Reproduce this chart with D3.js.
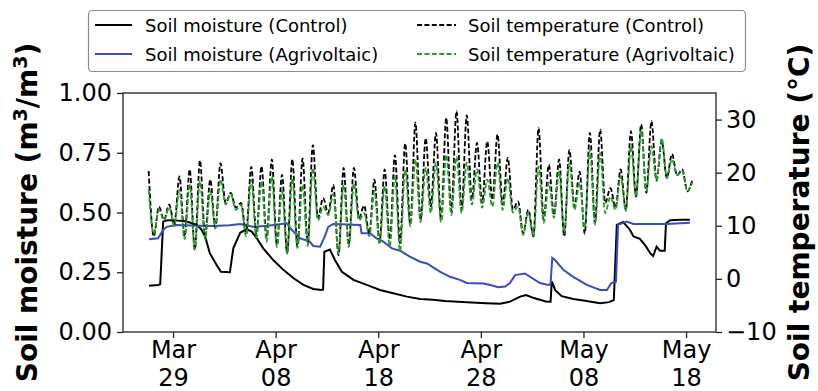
<!DOCTYPE html>
<html>
<head>
<meta charset="utf-8">
<script src="https://cdn.jsdelivr.net/npm/d3@7"></script>
<style>
  body { margin: 0; background: #fff; }
  text { font-family: "DejaVu Sans", sans-serif; }
</style>
</head>
<body>
<div id="chart"></div>
<script>
// Soil temperature, daily peak (15:00) from Mar 26 and daily minimum (03:00) from Mar 27
const tempPeakControl = [20.3, 13.6, 14.0, 19.3, 20.6, 22.3, 18.7, 21.8, 16.2, 14.3,
  21.1, 21.2, 22.5, 19.6, 22.5, 22.7, 25.2, 15.2, 17.7, 20.9,
  20.9, 13.8, 18.7, 20.6, 23.3, 25.5, 29.4, 26.5, 27.5, 30.3,
  31.6, 30.8, 25.6, 25.9, 27.2, 22.8, 14.6, 13.0, 28.4, 21.5,
  22.5, 24.3, 20.2, 27.5, 28.1, 17.1, 20.6, 27.8, 29.1, 29.7,
  26.0, 23.5, 20.6, 18.7];
const tempMinControl = [8.0, 11.1, 10.2, 8.0, 5.5, 8.0, 9.6, 14.3, 13.4,
  8.7, 8.3, 7.7, 6.4, 4.8, 6.1, 6.7, 11.5, 12.4, 4.5,
  6.4, 11.5, 8.5, 7.0, 7.4, 6.7, 10.2, 11.1, 13.6, 11.1,
  12.7, 13.0, 14.9, 14.3, 14.9, 14.0, 13.0, 8.6, 8.0, 11.1,
  12.0, 8.0, 13.6, 8.5, 10.6, 14.3, 13.4, 13.0, 15.5, 16.2,
  18.5, 19.0, 19.5, 16.5];
const tempPeakAgri = [16.8, 13.0, 13.5, 16.8, 17.7, 18.4, 16.5, 18.7, 16.0, 14.0,
  18.7, 18.4, 19.3, 16.5, 19.0, 17.7, 20.9, 13.6, 16.0, 17.7,
  18.0, 12.4, 16.5, 17.5, 19.5, 20.5, 22.5, 20.9, 21.9, 23.4,
  23.0, 21.9, 20.6, 18.7, 21.9, 19.0, 13.6, 12.5, 21.2, 18.1,
  20.2, 21.8, 18.1, 24.3, 23.7, 15.5, 19.3, 25.0, 28.0, 25.0,
  26.5, 22.5, 20.3, 18.3];
const tempMinAgri = [8.5, 11.0, 10.0, 7.5, 5.5, 7.5, 9.5, 14.0, 13.0,
  8.0, 7.8, 7.0, 6.0, 4.8, 5.8, 6.2, 11.0, 12.0, 4.8,
  6.0, 11.0, 8.0, 6.5, 6.1, 5.2, 9.9, 10.7, 12.4, 10.7,
  12.0, 12.4, 14.0, 13.4, 13.6, 13.0, 12.5, 8.3, 8.0, 10.6,
  11.5, 8.6, 13.0, 9.6, 10.2, 12.4, 13.0, 12.8, 15.5, 16.5,
  18.5, 19.0, 19.5, 16.5];

// Soil moisture (m3/m3)
const ctlTimes = ["03-26 16", "03-27 13", "03-27 18", "03-28 01", "03-28 12", "03-29 12", "03-30 06", "03-30 20",
  "03-31 08", "03-31 18", "04-01 03", "04-01 14", "04-02 06", "04-02 16", "04-03 13", "04-03 21",
  "04-04 13", "04-05 04", "04-05 16", "04-06 04", "04-06 19", "04-07 19", "04-08 18", "04-09 18",
  "04-10 17", "04-11 16", "04-12 12", "04-12 15", "04-12 18", "04-13 07", "04-13 19", "04-14 11",
  "04-15 14", "04-16 21", "04-18 04", "04-19 11", "04-20 19", "04-22 02", "04-23 08", "04-24 12",
  "04-26 15", "04-28 12", "04-29 21", "04-30 20", "05-01 20", "05-02 10", "05-03 04", "05-04 08",
  "05-04 19", "05-04 22", "05-05 06", "05-05 21", "05-07 00", "05-08 00", "05-09 15", "05-10 12",
  "05-10 23", "05-11 06", "05-11 21", "05-12 13", "05-12 21", "05-13 12", "05-14 00", "05-14 12",
  "05-14 19", "05-15 03", "05-15 11", "05-15 22", "05-16 01", "05-16 11", "05-17 12", "05-18 09"];
const ctlMoist = [0.194, 0.197, 0.200, 0.462, 0.468, 0.466, 0.463, 0.455,
  0.448, 0.430, 0.400, 0.330, 0.280, 0.252, 0.250, 0.350,
  0.415, 0.430, 0.420, 0.392, 0.350, 0.300, 0.260, 0.225,
  0.197, 0.180, 0.176, 0.178, 0.336, 0.345, 0.300, 0.252,
  0.218, 0.197, 0.176, 0.162, 0.148, 0.138, 0.135, 0.130,
  0.124, 0.120, 0.118, 0.127, 0.148, 0.155, 0.142, 0.128,
  0.127, 0.212, 0.175, 0.150, 0.138, 0.132, 0.120, 0.125,
  0.134, 0.448, 0.460, 0.427, 0.400, 0.390, 0.364, 0.330,
  0.318, 0.357, 0.340, 0.340, 0.455, 0.468, 0.470, 0.470];

const agvTimes = ["03-26 16", "03-27 13", "03-28 01", "03-28 09", "03-29 09", "03-31 12", "04-01 22", "04-03 12",
  "04-04 13", "04-05 19", "04-07 06", "04-09 02", "04-09 10", "04-10 09", "04-11 08", "04-11 16",
  "04-12 08", "04-12 19", "04-13 03", "04-13 15", "04-16 06", "04-16 09", "04-17 05", "04-17 20",
  "04-18 12", "04-19 08", "04-20 03", "04-21 02", "04-22 02", "04-22 18", "04-24 01", "04-25 00",
  "04-25 23", "04-26 15", "04-28 06", "04-28 22", "04-29 17", "04-30 09", "04-30 20", "05-01 08",
  "05-02 07", "05-03 18", "05-04 14", "05-04 19", "05-04 23", "05-05 06", "05-06 01", "05-07 00",
  "05-08 08", "05-09 15", "05-10 07", "05-10 17", "05-11 04", "05-11 09", "05-12 05", "05-12 21",
  "05-16 03", "05-18 09"];
const agvMoist = [0.388, 0.392, 0.427, 0.440, 0.448, 0.445, 0.443, 0.447,
  0.452, 0.440, 0.445, 0.455, 0.435, 0.392, 0.378, 0.360,
  0.357, 0.400, 0.440, 0.452, 0.448, 0.413, 0.413, 0.392,
  0.378, 0.350, 0.340, 0.315, 0.294, 0.287, 0.252, 0.231,
  0.218, 0.205, 0.203, 0.197, 0.187, 0.190, 0.205, 0.238,
  0.245, 0.205, 0.197, 0.200, 0.310, 0.300, 0.260, 0.231,
  0.197, 0.176, 0.176, 0.205, 0.210, 0.448, 0.462, 0.452,
  0.452, 0.457];

const dateTicks = ["2023-03-29", "2023-04-08", "2023-04-18", "2023-04-28", "2023-05-08", "2023-05-18"];
const moistTicks = [0, 0.25, 0.5, 0.75, 1];
const tempTicks = [-10, 0, 10, 20, 30];

const legendItems = [
  {label: "Soil moisture (Control)", color: "#000000", dash: null, col: 0, row: 0},
  {label: "Soil moisture (Agrivoltaic)", color: "#3a4cc2", dash: null, col: 0, row: 1},
  {label: "Soil temperature (Control)", color: "#000000", dash: "5,2.4", col: 1, row: 0},
  {label: "Soil temperature (Agrivoltaic)", color: "#2a9a2a", dash: "5,2.4", col: 1, row: 1}
];

// Layout
const W = 818, H = 391;
const plot = {left: 123, right: 716, top: 93, bottom: 332};

const parseFull = d3.timeParse("%Y-%m-%d %H");
const parseDay = d3.timeParse("%Y-%m-%d");
const t0 = new Date(2023, 2, 26, 15);

function buildTemp(peaks, mins) {
    const pts = [];
    peaks.forEach((p, i) => {
        pts.push({date: d3.timeHour.offset(t0, 24 * i), value: p});
        if (i < mins.length) pts.push({date: d3.timeHour.offset(t0, 24 * i + 12), value: mins[i]});
    });
    return pts;
}

function buildMoist(times, values) {
    return times.map((t, i) => ({date: parseFull("2023-" + t), value: values[i]}));
}

const tempControl = buildTemp(tempPeakControl, tempMinControl);
const tempAgri = buildTemp(tempPeakAgri, tempMinAgri);
const moistControl = buildMoist(ctlTimes, ctlMoist);
const moistAgri = buildMoist(agvTimes, agvMoist);

const x = d3.scaleTime()
    .domain([new Date(2023, 2, 24, 3), new Date(2023, 4, 20, 22)])
    .range([plot.left, plot.right]);
const yM = d3.scaleLinear().domain([0, 1]).range([plot.bottom, plot.top]);
const yT = d3.scaleLinear().domain([-10, 35]).range([plot.bottom, plot.top]);

const svg = d3.select("#chart").append("svg")
    .attr("width", W)
    .attr("height", H);

const lineM = d3.line().x(d => x(d.date)).y(d => yM(d.value));
const lineT = d3.line().x(d => x(d.date)).y(d => yT(d.value)).curve(d3.curveMonotoneX);

// moisture lines (first axis)
svg.append("path").datum(moistControl)
    .attr("d", lineM).attr("fill", "none")
    .attr("stroke", "#000").attr("stroke-width", 2);
svg.append("path").datum(moistAgri)
    .attr("d", lineM).attr("fill", "none")
    .attr("stroke", "#3a4cc2").attr("stroke-width", 2);

// temperature lines (twin axis, drawn above)
svg.append("path").datum(tempControl)
    .attr("d", lineT).attr("fill", "none")
    .attr("stroke", "#000").attr("stroke-width", 1.8)
    .attr("stroke-dasharray", "5,2.4");
svg.append("path").datum(tempAgri)
    .attr("d", lineT).attr("fill", "none")
    .attr("stroke", "#2a9a2a").attr("stroke-width", 1.8)
    .attr("stroke-dasharray", "5,2.4");

// frame
svg.append("rect")
    .attr("x", plot.left).attr("y", plot.top)
    .attr("width", plot.right - plot.left).attr("height", plot.bottom - plot.top)
    .attr("fill", "none").attr("stroke", "#222").attr("stroke-width", 1.3);

// axes
function styleAxis(g) {
    g.select(".domain").remove();
    g.selectAll(".tick line").attr("stroke", "#222").attr("stroke-width", 1.3);
    g.selectAll("text").attr("font-family", "DejaVu Sans").attr("font-size", 24).attr("fill", "#000");
}

svg.append("g")
    .attr("transform", `translate(${plot.left},0)`)
    .call(d3.axisLeft(yM).tickValues(moistTicks).tickFormat(d3.format(".2f")).tickSize(6).tickPadding(5))
    .call(styleAxis);

svg.append("g")
    .attr("transform", `translate(${plot.right},0)`)
    .call(d3.axisRight(yT).tickValues(tempTicks)
        .tickFormat(d => d < 0 ? "\u2212" + Math.abs(d) : d).tickSize(6).tickPadding(4))
    .call(styleAxis);

const fmtMon = d3.timeFormat("%b"), fmtDay = d3.timeFormat("%d");
const xAxis = svg.append("g")
    .attr("transform", `translate(0,${plot.bottom})`)
    .call(d3.axisBottom(x).tickValues(dateTicks.map(parseDay)).tickSize(6))
    .call(styleAxis);
xAxis.selectAll(".tick text").each(function(d) {
    const t = d3.select(this).text(null).attr("y", 0).attr("dy", null);
    t.append("tspan").attr("x", 0).attr("y", 26).text(fmtMon(d));
    t.append("tspan").attr("x", 0).attr("y", 54).text(fmtDay(d));
});

// axis titles
const yLab = svg.append("text")
    .attr("transform", `translate(37,${(plot.top + plot.bottom) / 2}) rotate(-90)`)
    .attr("text-anchor", "middle")
    .attr("font-size", 28).attr("font-weight", "bold");
yLab.append("tspan").text("Soil moisture (m");
yLab.append("tspan").attr("dy", -10).attr("font-size", 19).text("3");
yLab.append("tspan").attr("dy", 10).text("/m");
yLab.append("tspan").attr("dy", -10).attr("font-size", 19).text("3");
yLab.append("tspan").attr("dy", 10).text(")");

svg.append("text")
    .attr("transform", `translate(809,${(plot.top + plot.bottom) / 2}) rotate(-90)`)
    .attr("text-anchor", "middle")
    .attr("font-size", 28).attr("font-weight", "bold")
    .text("Soil temperature (\u00B0C)");

// legend
const legend = svg.append("g");
legend.append("rect")
    .attr("x", 88.5).attr("y", 10.5).attr("width", 657).attr("height", 61).attr("rx", 4)
    .attr("fill", "#fff").attr("stroke", "#8c8c8c").attr("stroke-width", 1.2);
const colX = [{x1: 95, x2: 132, tx: 145}, {x1: 417, x2: 456, tx: 468}];
const rowY = [25, 54];
legendItems.forEach(it => {
    const c = colX[it.col], y = rowY[it.row];
    legend.append("line")
        .attr("x1", c.x1).attr("x2", c.x2).attr("y1", y).attr("y2", y)
        .attr("stroke", it.color).attr("stroke-width", 1.8)
        .attr("stroke-dasharray", it.dash);
    legend.append("text")
        .attr("x", c.tx).attr("y", y + 7)
        .attr("font-size", 18)
        .text(it.label);
});
</script>
</body>
</html>
